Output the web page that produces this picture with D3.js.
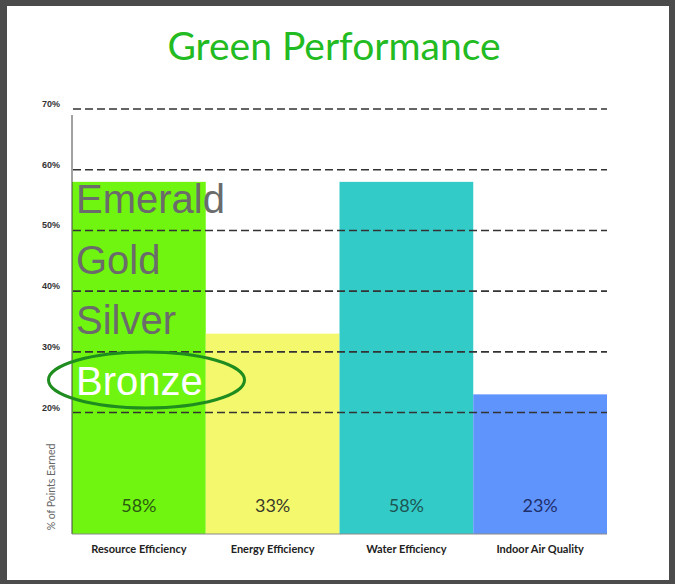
<!DOCTYPE html>
<html>
<head>
<meta charset="utf-8">
<script src="https://cdn.jsdelivr.net/npm/d3@7"></script>
<style>
  body { margin: 0; background: #fff; }
  svg { display: block; }
</style>
</head>
<body>
<div id="chart"></div>
<script>
// chart data
var categories = ["Resource Efficiency", "Energy Efficiency", "Water Efficiency", "Indoor Air Quality"];
var values = [58, 33, 58, 23];
var barColors = ["#6ff50f", "#f3f86c", "#33cbc7", "#6094fd"];
var valueColors = ["#2b5a12", "#3a3a2a", "#1d5553", "#1e2f6a"];
var yTicks = [20, 30, 40, 50, 60, 70];
var tiers = ["Emerald", "Gold", "Silver", "Bronze"];

var svgWidth = 675;
var svgHeight = 584;

var svg = d3.select("#chart")
    .append("svg")
    .attr("width", svgWidth)
    .attr("height", svgHeight);

// dark frame round the picture
svg.append("rect")
    .attr("width", svgWidth)
    .attr("height", svgHeight)
    .attr("fill", "#4b4b4b");
svg.append("rect")
    .attr("x", 7)
    .attr("y", 6)
    .attr("width", 662)
    .attr("height", 574)
    .attr("fill", "#fff");

// scales
var x = d3.scaleBand()
    .domain(categories)
    .range([72, 607])
    .padding(0);

var y = d3.scaleLinear()
    .domain([0, 70])
    .range([534, 109]);

// title
svg.append("text")
    .attr("x", 334)
    .attr("y", 60)
    .attr("text-anchor", "middle")
    .style("font-family", "Lato, 'Open Sans', sans-serif")
    .style("font-size", "39px")
    .style("fill", "#22bb22")
    .text("Green Performance");

// bars
svg.selectAll(".bar")
    .data(values)
    .enter()
    .append("rect")
    .attr("class", "bar")
    .attr("x", (d, i) => x(categories[i]))
    .attr("y", d => y(d))
    .attr("width", x.bandwidth())
    .attr("height", d => y(0) - y(d))
    .attr("fill", (d, i) => barColors[i]);

// value labels inside the bars
svg.selectAll(".val")
    .data(values)
    .enter()
    .append("text")
    .attr("class", "val")
    .attr("x", (d, i) => x(categories[i]) + x.bandwidth() / 2)
    .attr("y", 512)
    .attr("text-anchor", "middle")
    .style("font-family", "Lato, 'Open Sans', sans-serif")
    .style("font-size", "18px")
    .style("fill", (d, i) => valueColors[i])
    .text(d => d + "%");

// dashed gridlines on top
svg.selectAll(".grid")
    .data(yTicks)
    .enter()
    .append("line")
    .attr("class", "grid")
    .attr("x1", 73)
    .attr("x2", 607)
    .attr("y1", d => y(d))
    .attr("y2", d => y(d))
    .attr("stroke", "#333")
    .attr("stroke-width", 1.6)
    .attr("stroke-dasharray", "8,4");

// y tick labels
svg.selectAll(".ytick")
    .data(yTicks)
    .enter()
    .append("text")
    .attr("class", "ytick")
    .attr("x", 60)
    .attr("y", d => y(d) - 2)
    .attr("text-anchor", "end")
    .style("font-family", "'Liberation Sans', Arial, sans-serif")
    .style("font-size", "9px")
    .style("font-weight", "bold")
    .style("fill", "#333")
    .text(d => d + "%");

// axis lines
svg.append("line")
    .attr("x1", 72).attr("x2", 72)
    .attr("y1", 115).attr("y2", y(0))
    .attr("stroke", "#444")
    .attr("stroke-width", 1);
svg.append("line")
    .attr("x1", 72).attr("x2", 607)
    .attr("y1", y(0)).attr("y2", y(0))
    .attr("stroke", "#8a8a8a")
    .attr("stroke-width", 1);

// category labels
var bottomAxis = d3.axisBottom(x).tickSize(0).tickPadding(0);
var xg = svg.append("g")
    .attr("transform", `translate(0, ${y(0)})`)
    .call(bottomAxis);
xg.select(".domain").remove();
xg.selectAll("text")
    .attr("y", 19)
    .attr("dy", 0)
    .style("font-family", "Lato, 'Open Sans', sans-serif")
    .style("font-size", "11px")
    .style("font-weight", "bold")
    .style("fill", "#222");

// y axis title
svg.append("text")
    .attr("transform", "translate(55, 487) rotate(-90)")
    .attr("text-anchor", "middle")
    .style("font-family", "Lato, 'Open Sans', sans-serif")
    .style("font-size", "10.5px")
    .style("fill", "#666")
    .text("% of Points Earned");

// certification tier labels over the first bar
svg.selectAll(".tier")
    .data(tiers)
    .enter()
    .append("text")
    .attr("class", "tier")
    .attr("x", 76)
    .attr("y", (d, i) => 213 + i * 60.7)
    .style("font-family", "'Liberation Sans', Arial, sans-serif")
    .style("font-size", "40px")
    .style("fill", (d, i) => i === tiers.length - 1 ? "#ffffff" : "#6b6b6b")
    .text(d => d);

// ring round the earned tier
svg.append("ellipse")
    .attr("cx", 146.5)
    .attr("cy", 380)
    .attr("rx", 98)
    .attr("ry", 28)
    .attr("fill", "none")
    .attr("stroke", "#1e8c1e")
    .attr("stroke-width", 3);
</script>
</body>
</html>
